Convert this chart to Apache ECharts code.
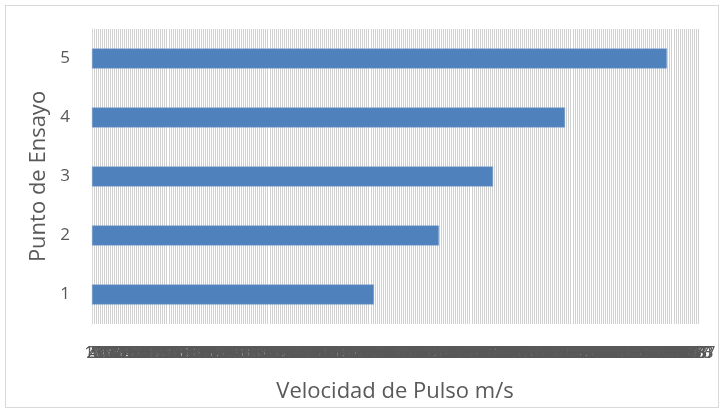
<!DOCTYPE html>
<html>
<head>
<meta charset="utf-8">
<script src="https://cdn.jsdelivr.net/npm/echarts@6/dist/echarts.min.js"></script>
<style>
  html, body { margin: 0; padding: 0; background: #fff; }
  #chart {
    width: 724px;
    height: 412px;
  }
  .frame {
    position: absolute;
    left: 5px; top: 5px;
    width: 712px; height: 401px;
    border: 1px solid #d9d9d9;
    pointer-events: none;
  }
</style>
</head>
<body>
<div id="chart"></div>
<div class="frame"></div>
<script>
// test points and pulse velocities (m/s)
const puntos = ["1", "2", "3", "4", "5"];
const velocidades = [1861, 2290, 2647, 3122, 3795];
// axis range: very fine major unit, so ticks/labels crowd together
const ejeMax = 4000;
const ejeDiv = 300;

let myChart = echarts.init(document.getElementById("chart"));
let option = {
  animation: false,
  grid: {
    left: 92,
    right: 26,
    top: 29,
    bottom: 88,
    containLabel: false,
    outerBoundsMode: "none"
  },
  xAxis: {
    type: "value",
    min: 0,
    max: ejeMax,
    interval: ejeMax / ejeDiv,
    name: "Velocidad de Pulso m/s",
    nameLocation: "middle",
    nameGap: 57,
    nameTextStyle: {
      fontFamily: "Open Sans",
      fontSize: 22,
      color: "#595959"
    },
    axisLine: { show: false },
    axisTick: { show: false },
    axisLabel: {
      fontFamily: "Open Sans",
      fontSize: 17,
      color: "#595959",
      margin: 21,
      hideOverlap: false,
      formatter: function (v) {
        return String(Math.round(v));
      }
    },
    splitLine: {
      show: true,
      lineStyle: { color: "#d0d0d0", width: 1 }
    }
  },
  yAxis: {
    type: "category",
    data: puntos,
    name: "Punto de Ensayo",
    nameLocation: "middle",
    nameGap: 41,
    nameTextStyle: {
      fontFamily: "Open Sans",
      fontSize: 22,
      color: "#595959"
    },
    axisLine: { show: true, lineStyle: { color: "#d9d9d9" } },
    axisTick: { show: false },
    axisLabel: {
      fontFamily: "Open Sans",
      fontSize: 17,
      color: "#595959",
      margin: 22
    }
  },
  series: [
    {
      name: "Velocidad",
      type: "bar",
      data: velocidades,
      barCategoryGap: "66%",
      itemStyle: {
        color: "#4f81bd",
        borderColor: "#7fa3cf",
        borderWidth: 0.5
      }
    }
  ]
};
myChart.setOption(option);
</script>
</body>
</html>
